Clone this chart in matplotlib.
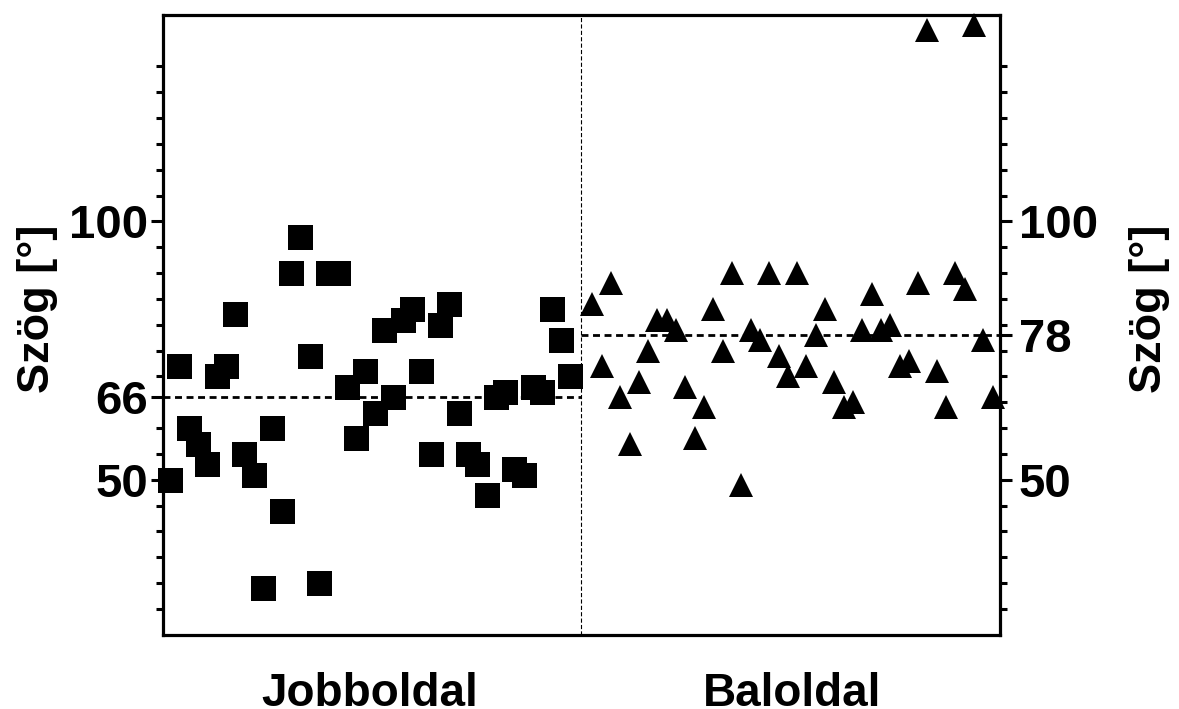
import numpy as np
import matplotlib
matplotlib.use('Agg')
import matplotlib.pyplot as plt

plt.rcParams['font.family'] = ['Liberation Sans', 'DejaVu Sans']
plt.rcParams['font.weight'] = 'bold'
plt.rcParams['lines.scale_dashes'] = False

# ---- data ----
groups = ['Jobboldal', 'Baloldal']
jobb = [50, 72, 60, 57, 53, 70, 72, 82, 55, 51, 29, 60, 44, 90, 97, 74, 30, 90, 90, 68,
        58, 71, 63, 79, 66, 81, 83, 71, 55, 80, 84, 63, 55, 53, 47, 66, 67, 52, 51, 68,
        67, 83, 77, 70]
bal = [84, 72, 88, 66, 57, 69, 75, 81, 81, 79, 68, 58, 64, 83, 75, 90, 49, 79, 77, 90,
       74, 70, 90, 72, 78, 83, 69, 64, 65, 79, 86, 79, 80, 72, 73, 88, 137, 71, 64, 90,
       87, 138, 77, 66]
mean_lines = [66, 78]
left_major = [50, 66, 100]
right_major = [50, 78, 100]
minor_all = list(range(25, 135, 5))
y_label = 'Szög [°]'

W, H = 1179, 709
fig = plt.figure(figsize=(W / 100, H / 100), dpi=100)
ax = fig.add_axes([163 / W, 1 - 634.7 / H, (1000 - 163) / W, (634.7 - 14.7) / H])

x_left = np.arange(len(jobb), dtype=float)
x_right = 45.36 + np.arange(len(bal), dtype=float)
xmin, xmax, divider = -0.75, 89.15, 44.2

ax.set_xlim(xmin, xmax)
ax.set_ylim(20, 140)

# mean lines
ax.plot([xmin, divider], [mean_lines[0]] * 2, color='black', lw=2.0,
        ls=(0, (5, 3.3)), zorder=2)
ax.plot([divider, xmax], [mean_lines[1]] * 2, color='black', lw=2.0,
        ls=(0, (5, 3.3)), zorder=2)
# divider
ax.axvline(divider, color='black', lw=0.8, ls=(0, (3, 1.6)), zorder=2)

ax.plot(x_left, jobb, ls='none', marker='s', ms=18, mew=0, color='black',
        clip_on=False, zorder=4)
ax.plot(x_right, bal, ls='none', marker='^', ms=17.5, mew=0, color='black',
        clip_on=False, zorder=4)

for sp in ax.spines.values():
    sp.set_linewidth(2.3)

ax.set_xticks([x_left.mean(), x_right.mean()])
ax.set_xticklabels(groups, fontsize=33, fontweight='bold')
ax.tick_params(axis='x', length=0, pad=26.5)

ax.set_yticks(left_major)
ax.set_yticks([v for v in minor_all if v not in (50, 65, 100)], minor=True)
ax.set_yticklabels([str(v) for v in left_major], fontsize=34, fontweight='bold')
ax.tick_params(axis='y', which='major', length=8.6, width=2.2, pad=2)
ax.tick_params(axis='y', which='minor', length=5, width=2.2)

ax2 = ax.twinx()
ax2.set_ylim(ax.get_ylim())
for sp in ax2.spines.values():
    sp.set_visible(False)
ax2.set_yticks(right_major)
ax2.set_yticks([v for v in minor_all if v not in (50, 100)], minor=True)
ax2.set_yticklabels([str(v) for v in right_major], fontsize=34, fontweight='bold')
ax2.tick_params(axis='y', which='major', length=8.6, width=2.2, pad=5)
ax2.tick_params(axis='y', which='minor', length=5, width=2.2)

fig.text(37 / W, 1 - 309 / H, y_label, rotation=90, ha='center', va='center',
         fontsize=32.5, fontweight='bold')
fig.text(1150 / W, 1 - 309 / H, y_label, rotation=90, ha='center', va='center',
         fontsize=32.5, fontweight='bold')

fig.savefig('out.png', dpi=100)
